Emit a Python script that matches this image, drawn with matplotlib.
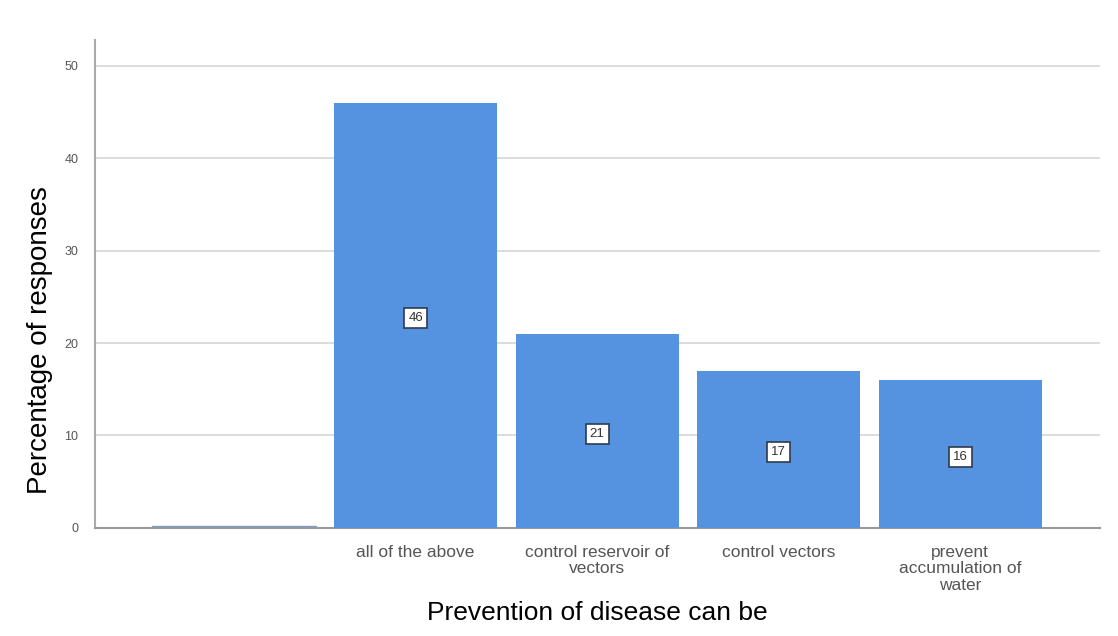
import matplotlib.pyplot as plt

# data
categories = ['', 'all of the above', 'control reservoir of\nvectors',
              'control vectors', 'prevent\naccumulation of\nwater']
percent = [0.2, 46, 21, 17, 16]
bar_labels = ['', '46', '21', '17', '16']
yticks = [0, 10, 20, 30, 40, 50]

plt.rcParams['font.family'] = ['Liberation Sans', 'DejaVu Sans']

fig = plt.figure(figsize=(11.18, 6.36), dpi=100)
ax = fig.add_axes([0.085, 0.170, 0.899, 0.767])

x = list(range(len(categories)))
bars = ax.bar(x, percent, width=0.9, color='#5592e0', zorder=3)
bars[0].set_color('#8a9ab5')

# value boxes in the middle of each bar
for xi, v, lab in zip(x, percent, bar_labels):
    if lab:
        ax.text(xi, v / 2 - 0.3, lab, ha='center', va='center', fontsize=9.5, color='#333333',
                zorder=4, bbox=dict(boxstyle='square,pad=0.3', fc='white', ec='#2f3b4c', lw=1.2))

ax.set_xlim(-0.766, 4.77)
ax.set_ylim(0, 52.8)
ax.set_yticks(yticks)
ax.set_xticks(x)
ax.set_xticklabels(categories, fontsize=12.5, color='#555555', linespacing=1.15)
ax.tick_params(axis='y', length=0, labelsize=9, colors='#555555', pad=12)
ax.tick_params(axis='x', length=0, pad=12)

ax.grid(axis='y', color='#d6d6d6', lw=1.2, zorder=0)
for s in ['top', 'right']:
    ax.spines[s].set_visible(False)
ax.spines['left'].set_color('#aaaaaa')
ax.spines['bottom'].set_color('#999999')
ax.spines['left'].set_linewidth(1.5)
ax.spines['bottom'].set_linewidth(1.5)

ax.set_ylabel('Percentage of responses', fontsize=20)
ax.yaxis.set_label_coords(-0.042, 0.385)
ax.set_xlabel('Prevention of disease can be', fontsize=19, labelpad=6)

fig.savefig('out.png', dpi=100)
